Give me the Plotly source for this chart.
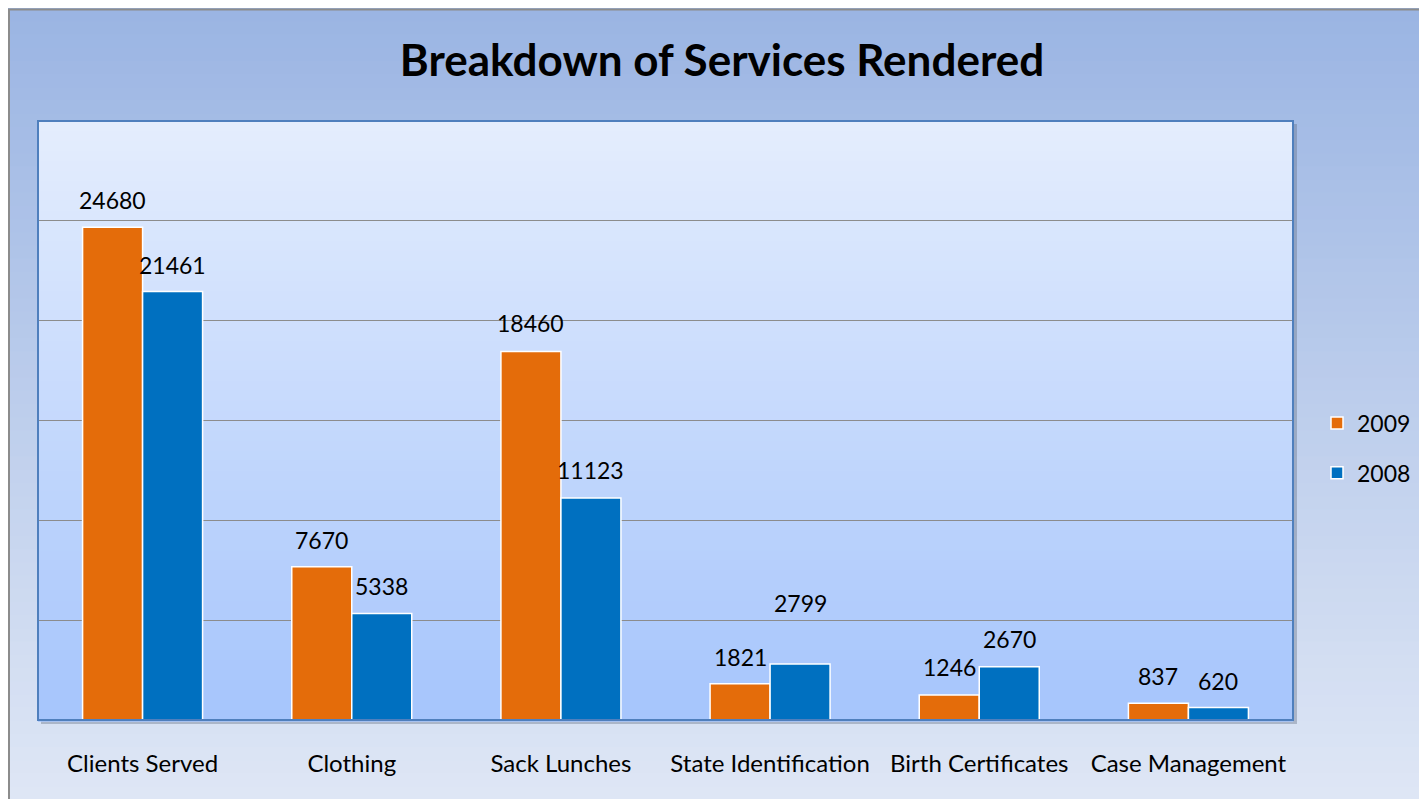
import plotly.graph_objects as go

categories = ["Clients Served", "Clothing", "Sack Lunches", "State Identification",
              "Birth Certificates", "Case Management"]
values_2009 = [24680, 7670, 18460, 1821, 1246, 837]
values_2008 = [21461, 5338, 11123, 2799, 2670, 620]
label_shift_2009 = [27, 27, 28, 27, 28, 27]
label_shift_2008 = [27, 27, 28, 61, 28, 27]

OFF = 8  # page body margin
W, H = 1427 - OFF, 799 - OFF
L, R, T, B = 38 - OFF, 134, 121 - OFF, 79
PW, PH = W - L - R, H - T - B


def px_x(p):  # page pixel -> paper x
    return (p - OFF - L) / PW


def px_y(p):  # page pixel -> paper y
    return (H - B - (p - OFF)) / PH


def lerp(c1, c2, t):
    return "rgb(%d,%d,%d)" % tuple(round(a + (b - a) * t) for a, b in zip(c1, c2))


shapes = []
# outer background gradient
top_c, bot_c = (155, 181, 227), (222, 230, 245)
n = 60
y_top, y_bot = 8, 800
for i in range(n):
    a = y_top + (y_bot - y_top) * i / n
    b = y_top + (y_bot - y_top) * (i + 1) / n + 1
    shapes.append(dict(type="rect", xref="paper", yref="paper", layer="below",
                       x0=px_x(7), x1=px_x(1440), y0=px_y(a), y1=px_y(b),
                       line=dict(width=0), fillcolor=lerp(top_c, bot_c, i / (n - 1))))
# outer border
shapes.append(dict(type="line", xref="paper", yref="paper", layer="below",
                   x0=px_x(8), x1=px_x(1440), y0=px_y(9.5), y1=px_y(9.5),
                   line=dict(color="#8c8c8c", width=2)))
shapes.append(dict(type="line", xref="paper", yref="paper", layer="below",
                   x0=px_x(9), x1=px_x(9), y0=px_y(9), y1=px_y(800),
                   line=dict(color="#8c8c8c", width=2)))
# plot area shadow
shapes.append(dict(type="rect", xref="paper", yref="paper", layer="below",
                   x0=px_x(38 + 3), x1=px_x(1293 + 4), y0=px_y(121 + 3), y1=px_y(720 + 4),
                   line=dict(width=0), fillcolor="rgba(90,100,120,0.35)"))
# plot area gradient
ptop, pbot = (228, 237, 253), (166, 197, 252)
for i in range(n):
    a = i / n
    b = (i + 1) / n + 0.003
    shapes.append(dict(type="rect", xref="paper", yref="paper", layer="below",
                       x0=0, x1=1, y0=1 - a, y1=1 - b,
                       line=dict(width=0), fillcolor=lerp(ptop, pbot, i / (n - 1))))
# plot area border
shapes.append(dict(type="rect", xref="paper", yref="paper", layer="above",
                   x0=0, x1=1, y0=0, y1=1,
                   line=dict(color="#4f7fbd", width=2), fillcolor="rgba(0,0,0,0)"))

xs = list(range(len(categories)))
bargap = 1 - 120 / (PW / len(categories))
half = (1 - bargap) / 4

fig = go.Figure()
fig.add_trace(go.Bar(x=xs, y=values_2009, name="2009", legendgroup="a",
                     marker=dict(color="#e46c0a", line=dict(color="white", width=1.5))))
fig.add_trace(go.Bar(x=xs, y=values_2008, name="2008", legendgroup="b",
                     marker=dict(color="#0070c0", line=dict(color="white", width=1.5))))

annotations = []
for i in xs:
    annotations.append(dict(x=i - half, y=values_2009[i], text=str(values_2009[i]),
                            showarrow=False, yshift=label_shift_2009[i], yanchor="middle",
                            font=dict(size=23, color="black", family="Lato")))
    annotations.append(dict(x=i + half, y=values_2008[i], text=str(values_2008[i]),
                            showarrow=False, yshift=label_shift_2008[i], yanchor="middle",
                            font=dict(size=23, color="black", family="Lato")))

fig.update_layout(
    width=W, height=H,
    margin=dict(l=L, r=R, t=T, b=B, autoexpand=False),
    paper_bgcolor="white",
    plot_bgcolor="rgba(0,0,0,0)",
    barmode="group", bargap=bargap, bargroupgap=0,
    font=dict(family="Lato", color="black"),
    title=dict(text="<b>Breakdown of Services Rendered</b>", x=(722 - OFF) / W, xanchor="center",
               y=1 - (61 - OFF) / H, yanchor="middle",
               font=dict(size=44, family="Lato", color="black")),
    xaxis=dict(range=[-0.5, len(categories) - 0.5], tickvals=xs, ticktext=categories,
               showgrid=False, zeroline=False, showline=False, ticks="",
               tickfont=dict(size=24, family="Lato", color="black"), ticklabelstandoff=27),
    yaxis=dict(range=[0, 30000], dtick=5000, showticklabels=False, showgrid=True,
               gridcolor="#8c8c8c", gridwidth=1.2, zeroline=True, zerolinecolor="#8c8c8c",
               zerolinewidth=1.2, showline=False, ticks=""),
    legend=dict(x=px_x(1317), y=px_y(448), xanchor="left", yanchor="middle",
                bgcolor="rgba(0,0,0,0)", font=dict(size=23, family="Lato", color="black"),
                tracegroupgap=17, itemwidth=30, traceorder="grouped"),
    shapes=shapes,
    annotations=annotations,
)

fig.write_html("out.html")
